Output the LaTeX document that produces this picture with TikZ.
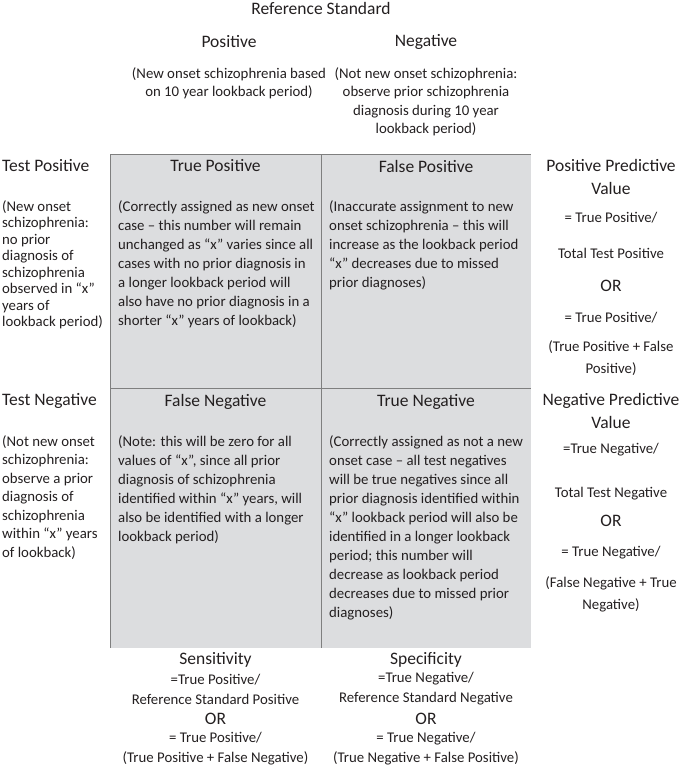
\documentclass[tikz,border=0pt]{standalone}
\usepackage{fontspec}
\setmainfont{Carlito}
\usepackage{xcolor}
\usetikzlibrary{positioning}

\definecolor{cellgray}{HTML}{DCDDDF}
\definecolor{rulegray}{HTML}{7F7F7F}
\definecolor{ink}{HTML}{231F20}

\begin{document}
\begin{tikzpicture} [x = 1pt, y = -1pt,
					head/.style = {font = \fontsize{17.5}{23}\selectfont,
					    inner sep = 0pt,
					    text = ink,
					    align = center},
					body/.style = {font = \fontsize{14.8}{19}\selectfont,
					    inner sep = 0pt,
					    text = ink,
					    align = left,
					    anchor = north west},
					side/.style = {body, font = \fontsize{14.8}{16.5}\selectfont},
					note/.style = {font = \fontsize{14.8}{18.5}\selectfont,
					    inner sep = 0pt,
					    text = ink,
					    align = center},
					rule/.style = {draw = rulegray, line width = 1pt}]

				\useasboundingbox (0,0) rectangle (685,769);

				% the four cells
				\fill [cellgray] (110,154) rectangle (531,648);
				\draw [rule] (110,648) -- (110,154) -- (531,154);
				\draw [rule] (321,154) -- (321,648);
				\draw [rule] (110,388) -- (531,388);

				% reference standard
				\node (refstd) at (321,8) [head] {Reference Standard};
				\node (refpos) at (229,42) [head] {Positive};
				\node (refneg) at (426,42) [head] {Negative};
				\node (refposnote) at (229,67) [note, anchor = north] {(New onset schizophrenia based\\on 10 year lookback period)};
				\node (refnegnote) at (426,67) [note, anchor = north] {(Not new onset schizophrenia:\\observe prior schizophrenia\\diagnosis during 10 year\\lookback period)};

				% test positive row
				\node (testpos) at (2,166) [head, anchor = west] {Test Positive};
				\node (testposnote) at (2,200) [side] {(New onset\\schizophrenia:\\no prior\\diagnosis of\\schizophrenia\\observed in “x”\\years of\\lookback period)};
				\node (tp) at (215.5,166) [head] {True Positive};
				\node (tpnote) at (118,200) [body] {(Correctly assigned as new onset\\case – this number will remain\\unchanged as “x” varies since all\\cases with no prior diagnosis in\\a longer lookback period will\\also have no prior diagnosis in a\\shorter “x” years of lookback)};
				\node (fp) at (426,166) [head] {False Positive};
				\node (fpnote) at (329,200) [body] {(Inaccurate assignment to new\\onset schizophrenia – this will\\increase as the lookback period\\“x” decreases due to missed\\prior diagnoses)};

				\node (ppv) at (611,177) [head] {Positive Predictive\\Value};
				\node (ppvratio) at (611,218) [note] {= True Positive/};
				\node (ppvtotal) at (611,253) [note] {Total Test Positive};
				\node (ppvor) at (611,286) [head] {OR};
				\node (ppvalt) at (611,318) [note] {= True Positive/};
				\node (ppvsum) at (611,358) [note, font = \fontsize{14.8}{22}\selectfont] {(True Positive + False\\Positive)};

				% test negative row
				\node (testneg) at (2,401) [head, anchor = west] {Test Negative};
				\node (testnegnote) at (2,435) [side, font = \fontsize{14.8}{18.5}\selectfont] {(Not new onset\\schizophrenia:\\observe a prior\\diagnosis of\\schizophrenia\\within “x” years\\of lookback)};
				\node (fn) at (215.5,402) [head] {False Negative};
				\node (fnnote) at (118,435) [body] {(Note: this will be zero for all\\values of “x”, since all prior\\diagnosis of schizophrenia\\identified within “x” years, will\\also be identified with a longer\\lookback period)};
				\node (tn) at (426,402) [head] {True Negative};
				\node (tnnote) at (329,435) [body] {(Correctly assigned as not a new\\onset case – all test negatives\\will be true negatives since all\\prior diagnosis identified within\\“x” lookback period will also be\\identified in a longer lookback\\period; this number will\\decrease as lookback period\\decreases due to missed prior\\diagnoses)};

				\node (npv) at (611,411) [head] {Negative Predictive\\Value};
				\node (npvratio) at (611,450) [note] {=True Negative/};
				\node (npvtotal) at (611,494) [note] {Total Test Negative};
				\node (npvor) at (611,521) [head] {OR};
				\node (npvalt) at (611,553) [note] {= True Negative/};
				\node (npvsum) at (611,594) [note, font = \fontsize{14.8}{22}\selectfont] {(False Negative + True\\Negative)};

				% sensitivity and specificity
				\node (sens) at (215.5,660) [head] {Sensitivity};
				\node (sensratio) at (215.5,689) [note, font = \fontsize{14.8}{20}\selectfont] {=True Positive/\\Reference Standard Positive};
				\node (sensor) at (215.5,719) [head] {OR};
				\node (sensalt) at (215.5,749) [note, font = \fontsize{14.8}{20}\selectfont] {= True Positive/\\(True Positive + False Negative)};
				\node (spec) at (426,660) [head] {Specificity};
				\node (specratio) at (426,689) [note, font = \fontsize{14.8}{20}\selectfont] {=True Negative/\\Reference Standard Negative};
				\node (specor) at (426,719) [head] {OR};
				\node (specalt) at (426,749) [note, font = \fontsize{14.8}{20}\selectfont] {= True Negative/\\(True Negative + False Positive)};
				\end{tikzpicture}
\end{document}
